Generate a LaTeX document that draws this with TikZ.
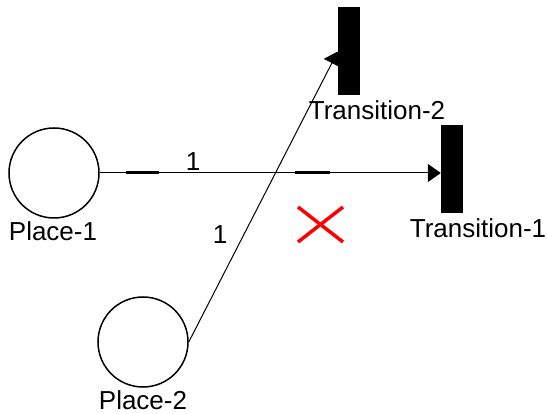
\documentclass[tikz,border=0pt]{standalone}
\usepackage{fontspec}
\setmainfont{Liberation Sans}
\usetikzlibrary{arrows.meta,positioning}
\begin{document}
\begin{tikzpicture}[x=1pt,y=-1pt,
  place/.style={draw,circle,line width=1.5pt,minimum size=90pt,inner sep=0pt},
  trans/.style={fill=black,rectangle,minimum width=22pt,minimum height=88pt,inner sep=0pt},
  lbl/.style={inner sep=0pt,font=\fontsize{26pt}{30pt}\selectfont},
  arc/.style={line width=1pt,-{Triangle[length=13pt,width=18pt]}},
  blob/.style={line width=3pt,shorten <=0pt}]
  \useasboundingbox (0,0) rectangle (547,414);
  % places and transitions
  \node[place] (p1) at (54,173) {};
  \node[place] (p2) at (143,342) {};
  \node[trans] (t1) at (452,169) {};
  \node[trans] (t2) at (349,51.5) {};
  % their names
  \node[lbl] (p1name) at (53,231) {Place-1};
  \node[lbl] (p2name) at (143,400) {Place-2};
  \node[lbl] (t1name) at (478,228) {Transition-1};
  \node[lbl] (t2name) at (377,110) {Transition-2};
  % the arcs with their weights
  \draw[arc] (p1.east) -- (t1.west |- p1.east)
    coordinate[pos=0.076] (a1) coordinate[pos=0.173] (a2)
    coordinate[pos=0.573] (a3) coordinate[pos=0.675] (a4);
  \draw[blob] (a1) -- (a2);
  \draw[blob] (a3) -- (a4);
  \draw[arc] (p2.east) -- (t2.west);
  \node[lbl] (w1) at (193,162) {1};
  \node[lbl] (w2) at (220,235) {1};
  % red cross
  \draw[red,line width=3.5pt] (298,207) -- (343,242);
  \draw[red,line width=3.5pt] (298,242) -- (343,207);
\end{tikzpicture}
\end{document}
